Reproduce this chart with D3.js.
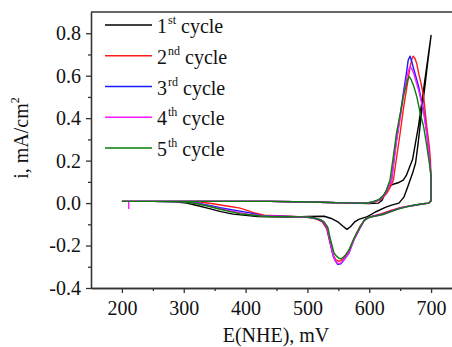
<!DOCTYPE html>
<html>
<head>
<meta charset="utf-8">
<script src="https://cdn.jsdelivr.net/npm/d3@7"></script>
<style>
  body { margin: 0; background: #fff; }
  svg { display: block; }
  svg text { font-family: "Liberation Serif", Tinos, "Times New Roman", Times, "DejaVu Serif", serif !important; fill: #111; }
</style>
</head>
<body>
<div id="chart"></div>
<script>
// CV cycles, [E (mV vs NHE), i (mA/cm2)] in sweep order
let cycle1 = [
    [200,0.008],[260,0.008],[320,0.008],[380,0.008],[440,0.008],[480,0.006],[520,0.004],[560,0.001],
    [600,-0.002],[615,0.0],[621,0.015],[626,0.05],[631,0.078],[640,0.09],[648,0.097],[655,0.108],
    [660,0.13],[664,0.16],[670,0.205],[680,0.37],[690,0.58],[700,0.79],
    [694,0.65],[690,0.55],[684,0.41],[679,0.28],[675,0.19],[670,0.14],[662,0.075],[656,0.028],
    [648,0.0],[636,-0.01],[626,-0.02],[610,-0.042],[597,-0.064],[583,-0.077],[576,-0.09],[570,-0.11],
    [564,-0.124],[558,-0.11],[550,-0.09],[540,-0.074],[527,-0.062],[500,-0.063],[470,-0.066],
    [440,-0.065],[420,-0.063],[400,-0.058],[380,-0.052],[360,-0.04],[340,-0.025],[320,-0.01],
    [305,0.0],[285,0.006],[250,0.008],[200,0.008]
];
let cycle2 = [
    [200,0.008],[260,0.008],[320,0.008],[380,0.008],[440,0.008],[480,0.006],[520,0.004],[560,0.001],
    [595,-0.001],[610,0.006],[620,0.02],[628,0.045],[634,0.075],[639,0.108],[644,0.21],[650,0.33],
    [655,0.44],[661,0.55],[666,0.64],[669,0.68],[671,0.692],[674,0.681],[677,0.655],[680,0.61],
    [684,0.56],[688,0.5],[693,0.36],[697,0.27],[699,0.2],[700,0.108],[700,0.02],
    [697,0.0],[690,-0.002],[680,-0.006],[665,-0.013],[650,-0.022],[635,-0.035],[620,-0.05],
    [605,-0.062],[595,-0.072],[586,-0.105],[578,-0.15],[570,-0.205],[563,-0.245],[557,-0.265],
    [551,-0.275],[546,-0.267],[541,-0.24],[536,-0.18],[531,-0.12],[524,-0.088],[514,-0.074],
    [500,-0.067],[472,-0.062],[450,-0.06],[430,-0.057],[415,-0.047],[400,-0.032],[391,-0.024],
    [375,-0.016],[362,-0.01],[345,-0.002],[326,0.005],[300,0.008],[250,0.008],[200,0.008]
];
let cycle3 = [
    [200,0.008],[260,0.008],[320,0.008],[380,0.008],[440,0.008],[480,0.006],[520,0.004],[560,0.001],
    [594,-0.001],[605,0.004],[615,0.014],[622,0.03],[627,0.05],[632,0.08],[636,0.108],[640,0.2],
    [644,0.296],[650,0.41],[655,0.516],[660,0.61],[663,0.673],[666,0.692],[669,0.665],[671,0.641],
    [675,0.6],[680,0.547],[684,0.49],[688,0.438],[693,0.329],[697,0.22],[700,0.124],[700,0.01],
    [696,0.0],[688,-0.003],[675,-0.009],[660,-0.017],[648,-0.025],[635,-0.038],[622,-0.052],
    [612,-0.058],[600,-0.066],[592,-0.08],[586,-0.112],[580,-0.145],[575,-0.174],[567,-0.237],
    [559,-0.268],[554,-0.286],[549,-0.288],[545,-0.272],[542,-0.253],[537,-0.19],[532,-0.119],
    [526,-0.09],[521,-0.08],[508,-0.069],[490,-0.065],[472,-0.063],[440,-0.061],[424,-0.058],
    [405,-0.045],[391,-0.038],[375,-0.03],[359,-0.022],[340,-0.01],[320,0.002],[300,0.007],
    [250,0.008],[200,0.008]
];
let cycle4 = [
    [211,-0.028],[211,0.008],[260,0.008],[320,0.008],[380,0.008],[440,0.008],[480,0.006],[520,0.004],
    [560,0.001],[594,-0.001],[605,0.004],[615,0.014],[622,0.03],[627,0.05],[632,0.08],[636,0.108],
    [640,0.2],[644,0.29],[650,0.4],[655,0.5],[660,0.58],[663,0.62],[666,0.645],[669,0.63],
    [672,0.61],[676,0.57],[680,0.53],[684,0.48],[688,0.43],[693,0.33],[697,0.22],[700,0.12],
    [700,0.01],[696,0.0],[688,-0.004],[675,-0.01],[660,-0.018],[648,-0.026],[635,-0.04],
    [622,-0.054],[612,-0.06],[600,-0.067],[592,-0.082],[586,-0.112],[580,-0.146],[575,-0.175],
    [567,-0.235],[559,-0.266],[554,-0.283],[549,-0.285],[545,-0.27],[542,-0.25],[537,-0.185],
    [532,-0.116],[526,-0.088],[521,-0.078],[508,-0.068],[490,-0.065],[472,-0.064],[440,-0.062],
    [424,-0.06],[405,-0.052],[391,-0.045],[375,-0.036],[359,-0.026],[340,-0.013],[320,0.0],
    [300,0.006],[250,0.008],[200,0.008]
];
let cycle5 = [
    [200,0.008],[260,0.008],[320,0.008],[380,0.008],[440,0.008],[480,0.006],[520,0.004],[560,0.001],
    [594,-0.001],[605,0.005],[615,0.016],[622,0.034],[627,0.055],[630,0.08],[633.5,0.108],
    [639,0.22],[644,0.328],[650,0.42],[655,0.5],[660,0.56],[663,0.587],[665,0.595],[668,0.58],
    [672,0.55],[677,0.5],[682,0.43],[688,0.359],[693,0.27],[698,0.171],[700,0.124],[700,0.01],
    [696,0.0],[688,-0.003],[675,-0.009],[660,-0.018],[648,-0.027],[635,-0.04],[622,-0.054],
    [612,-0.06],[600,-0.067],[592,-0.08],[586,-0.108],[580,-0.14],[575,-0.168],[567,-0.222],
    [560,-0.25],[555,-0.262],[551,-0.26],[547,-0.25],[543,-0.235],[538,-0.18],[533,-0.115],
    [527,-0.088],[521,-0.078],[508,-0.068],[490,-0.065],[472,-0.064],[440,-0.063],[424,-0.061],
    [405,-0.055],[391,-0.05],[375,-0.04],[359,-0.029],[340,-0.015],[320,-0.002],[300,0.006],
    [250,0.008],[200,0.008]
];

let cycles = [cycle1, cycle2, cycle3, cycle4, cycle5];
let ordinals = ["1", "2", "3", "4", "5"];
let suffixes = ["st", "nd", "rd", "th", "th"];
let colors = ["#000000", "#ff1a1a", "#1a1aff", "#ff1aff", "#0a7d0a"];

let xMajor = [200, 300, 400, 500, 600, 700];
let xMinor = [250, 350, 450, 550, 650, 750];
let yMajor = [-0.4, -0.2, 0.0, 0.2, 0.4, 0.6, 0.8];
let yMinor = [-0.3, -0.1, 0.1, 0.3, 0.5, 0.7];

let W = 452, H = 347;
let plot = { left: 91, right: 462, top: 12, bottom: 288 };
let serif = "'Liberation Serif', Tinos, 'Times New Roman', Times, 'DejaVu Serif', serif";

let svg = d3.select("#chart").append("svg")
    .attr("width", W)
    .attr("height", H)
    .style("font-family", serif);

let x = d3.scaleLinear().domain([150, 750]).range([plot.left, plot.right]);
let y = d3.scaleLinear().domain([-0.4, 0.9]).range([plot.bottom, plot.top]);

// curves
let line = d3.line()
    .x(d => x(d[0]))
    .y(d => y(d[1]));

svg.append("g")
    .selectAll("path")
    .data(cycles)
    .enter()
    .append("path")
    .attr("d", line)
    .attr("fill", "none")
    .attr("stroke", (d, i) => colors[i])
    .attr("stroke-width", 1.4)
    .attr("stroke-linejoin", "round");

// axes
let axisColor = "#333";

svg.append("g")
    .attr("transform", `translate(0,${plot.bottom})`)
    .call(d3.axisBottom(x).tickValues(xMajor).tickSize(5).tickPadding(8).tickSizeOuter(0)
        .tickFormat(d => d));
svg.append("g")
    .attr("transform", `translate(0,${plot.bottom})`)
    .call(d3.axisBottom(x).tickValues(xMinor).tickSize(3).tickSizeOuter(0).tickFormat(""));

svg.append("g")
    .attr("transform", `translate(${plot.left},0)`)
    .call(d3.axisLeft(y).tickValues(yMajor).tickSize(5).tickPadding(5).tickSizeOuter(0)
        .tickFormat(d => d.toFixed(1)));
svg.append("g")
    .attr("transform", `translate(${plot.left},0)`)
    .call(d3.axisLeft(y).tickValues(yMinor).tickSize(3).tickSizeOuter(0).tickFormat(""));

svg.selectAll("g").attr("font-family", null);
svg.selectAll(".domain, .tick line")
    .attr("stroke", axisColor)
    .attr("stroke-width", 1.3);
svg.selectAll(".tick text")
    .style("font-family", serif)
    .attr("font-size", 20)
    .attr("fill", "#111");

// top frame line
svg.append("line")
    .attr("x1", plot.left).attr("x2", plot.right)
    .attr("y1", plot.top).attr("y2", plot.top)
    .attr("stroke", axisColor)
    .attr("stroke-width", 1.3);

// axis titles
let yTitle = svg.append("text")
    .attr("transform", "translate(28,138) rotate(-90)")
    .attr("text-anchor", "middle")
    .style("font-family", serif)
    .attr("font-size", 20);
yTitle.append("tspan").text("i, mA/cm");
yTitle.append("tspan").attr("font-size", 12).attr("dy", -9).text("2");

svg.append("text")
    .attr("x", 276)
    .attr("y", 342)
    .attr("text-anchor", "middle")
    .style("font-family", serif)
    .attr("font-size", 20)
    .text("E(NHE), mV");

// legend
let legend = svg.append("g").attr("class", "legend");
let rowY = d3.scaleLinear().domain([0, 4]).range([25, 148]);

cycles.forEach(function(c, i){
    let ly = rowY(i);
    legend.append("line")
        .attr("x1", 105).attr("x2", 152)
        .attr("y1", ly).attr("y2", ly)
        .attr("stroke", colors[i])
        .attr("stroke-width", 1.4);
    let t = legend.append("text")
        .attr("x", 157)
        .attr("y", ly + 8)
        .style("font-family", serif)
        .attr("font-size", 20);
    t.append("tspan").text(ordinals[i]);
    t.append("tspan").attr("font-size", 12).attr("dy", -9).attr("dx", 1).text(suffixes[i]);
    t.append("tspan").attr("dy", 9).text(" cycle");
});
</script>
</body>
</html>
